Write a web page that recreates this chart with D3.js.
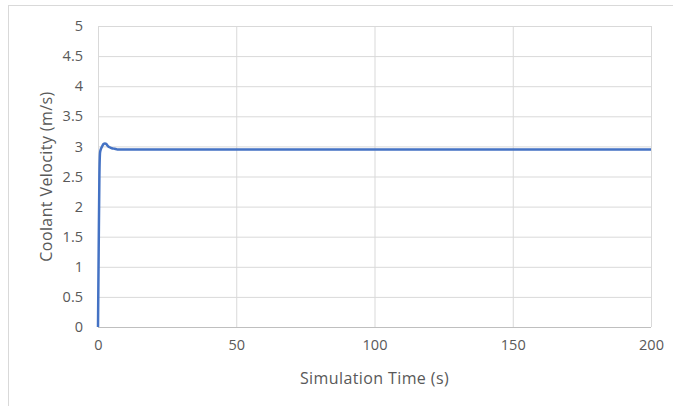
<!DOCTYPE html>
<html>
<head>
<meta charset="utf-8">
<script src="https://cdn.jsdelivr.net/npm/d3@7"></script>
<style>
  html, body { margin: 0; padding: 0; background: #fff; }
  svg { display: block; }
  text { font-family: "Open Sans", Lato, sans-serif; fill: #595959; }
</style>
</head>
<body>
<svg id="chart" width="673" height="406"></svg>
<script>
// Coolant velocity transient (time in s, velocity in m/s)
const timeS = [0, 0.25, 0.5, 0.75, 1.0, 1.5, 2.0, 2.5, 3.0, 3.5, 4.0, 4.5, 5.0, 6.0, 7.0, 8.0, 200];
const velocity = [0, 1.3, 2.5, 2.9, 2.95, 3.0, 3.04, 3.05, 3.04, 3.01, 2.99, 2.98, 2.97, 2.96, 2.95, 2.95, 2.95];
const xTicks = [0, 50, 100, 150, 200];
const yTicks = [0, 0.5, 1, 1.5, 2, 2.5, 3, 3.5, 4, 4.5, 5];
const xTitle = "Simulation Time (s)";
const yTitle = "Coolant Velocity (m/s)";

const svg = d3.select("#chart");
const W = 673, H = 406;
const margin = { left: 98, right: 22, top: 26, bottom: 79 };
const plotW = W - margin.left - margin.right;
const plotH = H - margin.top - margin.bottom;

// outer chart frame
svg.append("rect")
  .attr("x", 8.5).attr("y", 5.5)
  .attr("width", W + 10).attr("height", H + 10)
  .attr("fill", "#fff").attr("stroke", "#d9d9d9").attr("stroke-width", 1);

const x = d3.scaleLinear().domain([0, 200]).range([0, plotW]);
const y = d3.scaleLinear().domain([0, 5]).range([plotH, 0]);

const g = svg.append("g").attr("transform", `translate(${margin.left},${margin.top})`);

// horizontal gridlines
g.append("g")
  .call(d3.axisLeft(y).tickValues(yTicks).tickSize(-plotW).tickFormat(""))
  .call(a => a.select(".domain").remove())
  .call(a => a.selectAll("line").attr("stroke", "#d9d9d9"));

// vertical gridlines
g.append("g")
  .attr("transform", `translate(0,${plotH})`)
  .call(d3.axisBottom(x).tickValues(xTicks).tickSize(-plotH).tickFormat(""))
  .call(a => a.select(".domain").remove())
  .call(a => a.selectAll("line").attr("stroke", "#d9d9d9"));

// bottom axis line
g.append("line")
  .attr("x1", 0).attr("x2", plotW)
  .attr("y1", y(0) + 0.5).attr("y2", y(0) + 0.5)
  .attr("stroke", "#bfbfbf");

// y tick labels
g.append("g")
  .call(d3.axisLeft(y).tickValues(yTicks).tickSize(0).tickPadding(15).tickFormat(d3.format("")))
  .call(a => a.select(".domain").remove())
  .call(a => a.selectAll("text").style("font-size", "14.5px").attr("fill", "#595959"));

// x tick labels
g.append("g")
  .attr("transform", `translate(0,${plotH})`)
  .call(d3.axisBottom(x).tickValues(xTicks).tickSize(0).tickPadding(13).tickFormat(d3.format("")))
  .call(a => a.select(".domain").remove())
  .call(a => a.selectAll("text").style("font-size", "14.5px").attr("fill", "#595959"));

// data line
const line = d3.line().x((d, i) => x(timeS[i])).y(d => y(d)).curve(d3.curveMonotoneX);
g.append("path")
  .datum(velocity)
  .attr("d", line)
  .attr("fill", "none")
  .attr("stroke", "#4472c4")
  .attr("stroke-width", 2.5)
  .attr("stroke-linejoin", "round");

// axis titles
svg.append("text")
  .attr("x", margin.left + plotW / 2).attr("y", 384)
  .attr("text-anchor", "middle")
  .style("font-size", "16px")
  .style("letter-spacing", "0.4px")
  .text(xTitle);

svg.append("text")
  .attr("transform", `translate(52,${margin.top + plotH / 2}) rotate(-90)`)
  .attr("text-anchor", "middle")
  .style("font-size", "16px")
  .style("letter-spacing", "0.4px")
  .text(yTitle);
</script>
</body>
</html>
